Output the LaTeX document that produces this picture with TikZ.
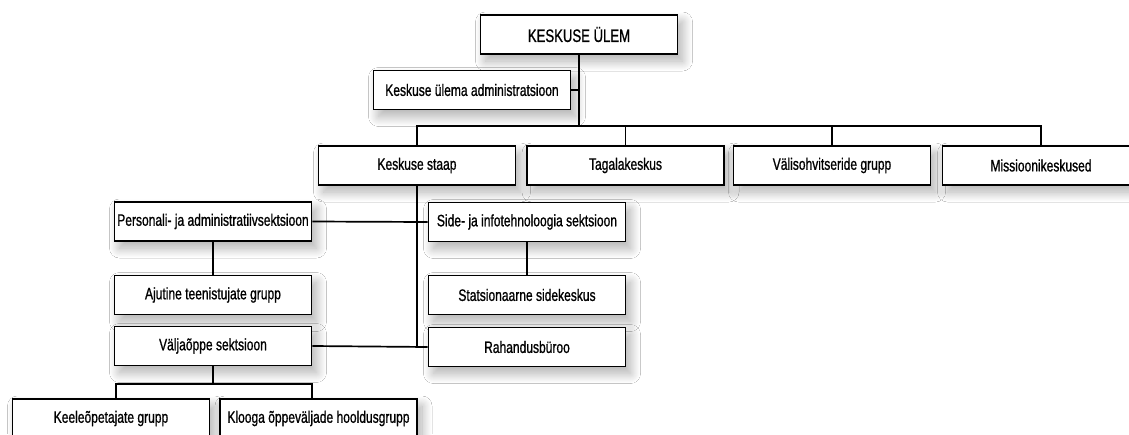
\documentclass[tikz,border=0pt]{standalone}
\usepackage{fontspec}
\setmainfont{Liberation Sans}[FakeStretch=0.73,FakeBold=0.9]
\usetikzlibrary{shadows.blur}
\tikzset{
  box/.style={draw=black, line width=1.9pt, fill=white, minimum width=197pt, minimum height=39pt,
    inner sep=0pt, font=\fontsize{16.5}{18}\selectfont,
    blur shadow={shadow xshift=5pt, shadow yshift=-7pt, shadow blur radius=10pt, shadow blur steps=20, shadow opacity=32}},
  topbox/.style={box, font=\fontsize{18}{20}\selectfont},
  conn/.style={line width=1.7pt, draw=black}
}
\begin{document}
\begin{tikzpicture}[x=1pt,y=-1pt]
\useasboundingbox[fill=white] (0,0) rectangle (1129,434);
\node[topbox] (top) at (579,34.5) {KESKUSE ÜLEM};
\node[box] (adm) at (472,90) {Keskuse ülema administratsioon};
\node[box] (sta) at (417,165.5) {Keskuse staap};
\node[box] (tag) at (625.5,165.5) {Tagalakeskus};
\node[box] (val) at (832,165.5) {Välisohvitseride grupp};
\node[box] (mis) at (1041,165.5) {Missioonikeskused};
\node[box] (per) at (213,221.5) {Personali- ja administratiivsektsioon};
\node[box] (sid) at (527,222) {Side- ja infotehnoloogia sektsioon};
\node[box] (aju) at (213,295) {Ajutine teenistujate grupp};
\node[box] (sts) at (527,295) {Statsionaarne sidekeskus};
\node[box] (vop) at (213,346) {Väljaõppe sektsioon};
\node[box] (rah) at (527,347) {Rahandusbüroo};
\node[box] (kee) at (111,418.5) {Keeleõpetajate grupp};
\node[box] (klo) at (318.5,418.5) {Klooga õppeväljade hooldusgrupp};
% top connectors
\coordinate (bus) at (579,126);
\draw[conn] (top.south) -- (bus);
\draw[conn] (adm.east) -- (adm.east -| top.south);
\draw[conn] (sta.north) |- (bus) -| (mis.north);
\draw[conn] (tag.north) -- (tag.north |- bus);
\draw[conn] (val.north) -- (val.north |- bus);
% staap branch
\coordinate (sb) at (417,346);
\draw[conn] (sta.south) -- (sb);
\draw[conn] (vop.east) -- (rah.west);
\draw[conn] (per.east) -- (sid.west);
\draw[conn] (per.south) -- (aju.north);
\draw[conn] (sid.south) -- (sts.north);
% Väljaõppe branch
\coordinate (vb) at (213,384);
\draw[conn] (vop.south) -- (vb);
\draw[conn] ([xshift=5pt]kee.north) |- (vb) -| ([xshift=-6.5pt]klo.north);
\end{tikzpicture}
\end{document}
